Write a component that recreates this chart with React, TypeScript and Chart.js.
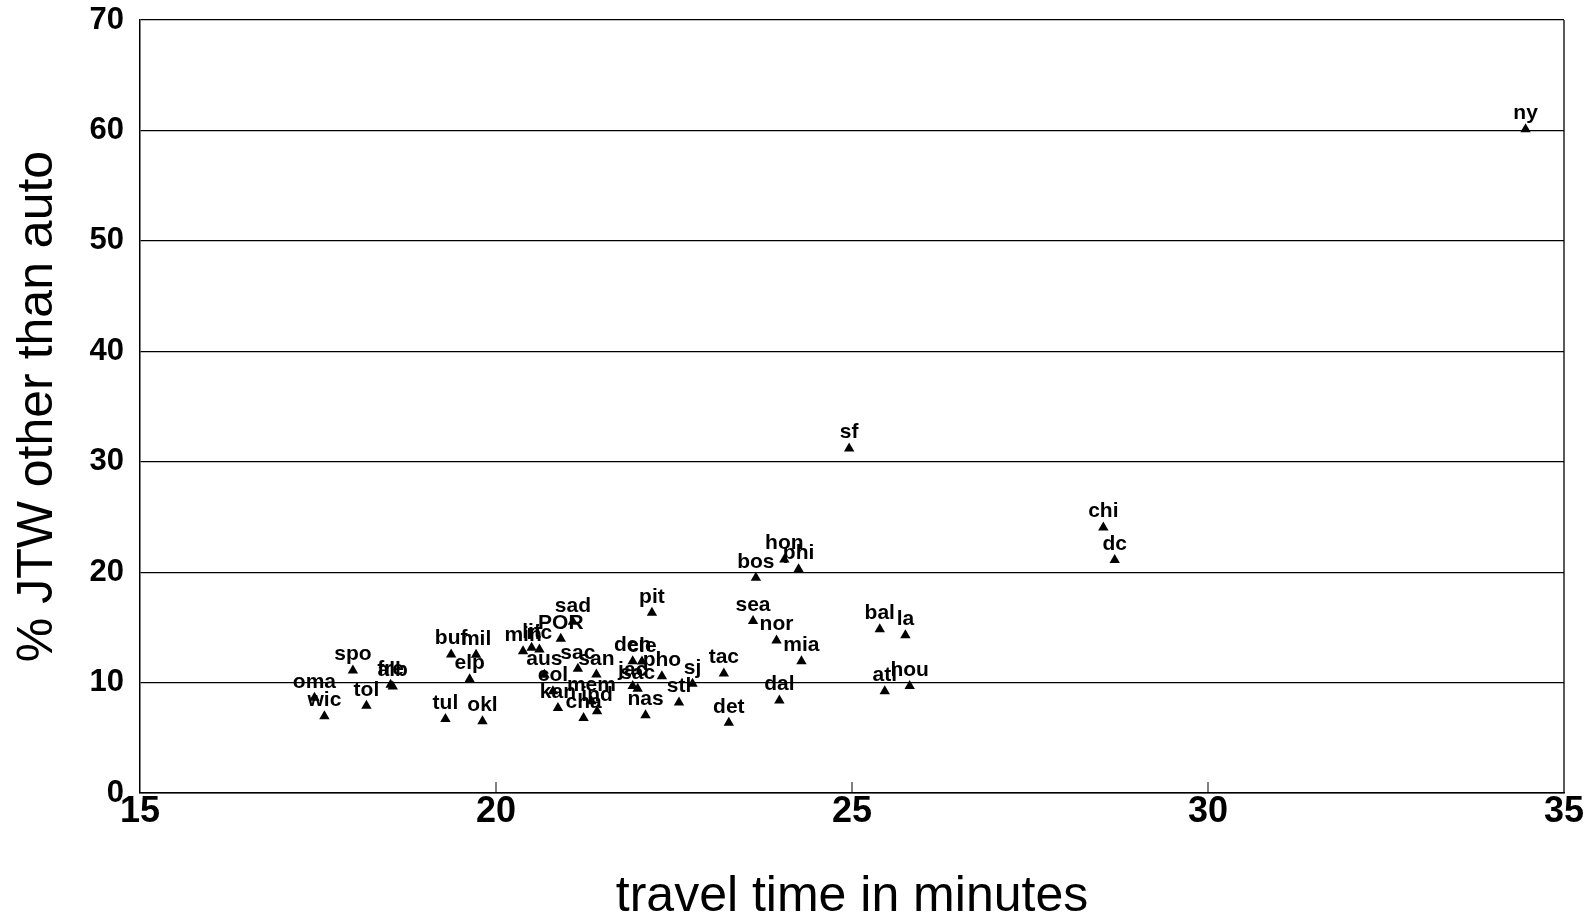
import React, { useEffect, useRef } from "react";
import { Chart, registerables } from "chart.js";

Chart.register(...registerables);

const cityLabels = [
  "ny", "sf", "chi", "dc", "hon", "phi", "bos", "sea", "nor", "mia",
  "bal", "la", "atl", "hou", "dal", "det", "tac", "sj", "stl", "nas",
  "pit", "pho", "den", "cle", "jac", "sac", "san", "sac", "mem", "cha",
  "ind", "kan", "col", "aus", "POR", "sad", "min", "lit", "ric", "mil",
  "buf", "elp", "tul", "okl", "fre", "alb", "spo", "tol", "oma", "wic",
];

const travelMinutes = [
  34.46, 24.96, 28.53, 28.69, 24.05, 24.25, 23.65, 23.61, 23.94, 24.29,
  25.39, 25.75, 25.46, 25.81, 23.98, 23.27, 23.2, 22.76, 22.57, 22.1,
  22.19, 22.33, 21.92, 22.05, 21.92, 21.99, 21.41, 21.15, 21.34, 21.23,
  21.42, 20.87, 20.8, 20.68, 20.91, 21.08, 20.38, 20.5, 20.61, 19.72,
  19.37, 19.63, 19.29, 19.81, 18.52, 18.55, 17.99, 18.18, 17.45, 17.59,
];

const pctNonAuto = [
  60.1, 31.2, 24.05, 21.1, 21.15, 20.26, 19.5, 15.57, 13.82, 11.94,
  14.82, 14.29, 9.22, 9.68, 8.38, 6.36, 10.83, 9.9, 8.2, 7.05,
  16.33, 10.58, 11.94, 11.9, 9.68, 9.43, 10.73, 11.25, 8.3, 6.8,
  7.4, 7.7, 9.22, 10.7, 13.96, 15.5, 12.84, 13.16, 13.0, 12.52,
  12.55, 10.3, 6.7, 6.5, 9.8, 9.65, 11.1, 7.9, 8.62, 6.95,
];

const xTickValues = [15, 20, 25, 30, 35];
const yTickValues = [0, 10, 20, 30, 40, 50, 60, 70];

const FONT = '"Liberation Sans", Arial, Helvetica, sans-serif';

const labelPlugin = {
  id: "cityLabels",
  afterDatasetsDraw(chart: any) {
    const meta = chart.getDatasetMeta(0);
    const ctx = chart.ctx;
    ctx.save();
    ctx.font = `bold 21px ${FONT}`;
    ctx.fillStyle = "#000";
    ctx.textAlign = "center";
    ctx.textBaseline = "alphabetic";
    meta.data.forEach((el: any, i: number) => {
      ctx.fillText(cityLabels[i], el.x, el.y - 10);
    });
    ctx.restore();
  },
};

const framePlugin = {
  id: "frame",
  beforeDatasetsDraw(chart: any) {
    const { ctx, chartArea } = chart;
    const xs = chart.scales.x;
    ctx.save();
    ctx.strokeStyle = "#000";
    ctx.lineWidth = 1.3;
    ctx.beginPath();
    ctx.moveTo(chartArea.right, chartArea.top);
    ctx.lineTo(chartArea.right, chartArea.bottom);
    ctx.stroke();
    ctx.lineWidth = 1;
    xTickValues.slice(1, -1).forEach((v) => {
      const px = xs.getPixelForValue(v);
      ctx.beginPath();
      ctx.moveTo(px, chartArea.bottom);
      ctx.lineTo(px, chartArea.bottom - 11);
      ctx.stroke();
    });
    ctx.restore();
  },
};

export default function App() {
  const canvasRef = useRef<HTMLCanvasElement | null>(null);

  useEffect(() => {
    document.body.style.margin = "0";
    const canvas = canvasRef.current;
    if (!canvas) return;
    const points = travelMinutes.map((x, i) => ({ x, y: pctNonAuto[i] }));
    const chart = new Chart(canvas, {
      type: "scatter",
      data: {
        datasets: [
          {
            data: points,
            pointStyle: "triangle",
            pointRadius: 6,
            pointHoverRadius: 6,
            backgroundColor: "#000",
            borderColor: "#000",
            borderWidth: 0,
          },
        ],
      },
      options: {
        animation: false,
        responsive: false,
        devicePixelRatio: 1,
        events: [],
        layout: { padding: { top: 20, right: 23, left: 0, bottom: 0 } },
        plugins: {
          legend: { display: false },
          tooltip: { enabled: false },
        },
        scales: {
          x: {
            type: "linear",
            min: 15,
            max: 35,
            afterBuildTicks: (scale: any) => {
              scale.ticks = xTickValues.map((v) => ({ value: v }));
            },
            afterFit: (scale: any) => {
              scale.height = 127;
              scale.paddingLeft = 0;
              scale.paddingRight = 0;
            },
            ticks: {
              color: "#000",
              font: { family: FONT, size: 36, weight: "bold" },
              padding: -3,
              maxRotation: 0,
            },
            grid: { display: true, drawOnChartArea: false, drawTicks: false, color: "#000" },
            border: { display: true, color: "#000", width: 1.5 },
            title: {
              display: true,
              text: "travel time in minutes",
              color: "#000",
              font: { family: FONT, size: 50, weight: "normal", lineHeight: 0.9 },
              padding: { top: 0, bottom: 0 },
            },
          },
          y: {
            type: "linear",
            min: 0,
            max: 70,
            afterBuildTicks: (scale: any) => {
              scale.ticks = yTickValues.map((v) => ({ value: v }));
            },
            afterFit: (scale: any) => {
              scale.width = 140;
              scale.paddingTop = 0;
              scale.paddingBottom = 0;
            },
            ticks: {
              color: "#000",
              font: { family: FONT, size: 31, weight: "bold" },
              padding: 16,
            },
            grid: { display: true, drawTicks: false, color: "#000", lineWidth: 1.2 },
            border: { display: true, color: "#000", width: 1.5 },
            title: {
              display: true,
              text: "% JTW other than auto",
              color: "#000",
              font: { family: FONT, size: 50, weight: "normal", lineHeight: 1 },
              padding: { top: 13, bottom: 0 },
            },
          },
        },
      },
      plugins: [framePlugin, labelPlugin],
    });
    return () => {
      chart.destroy();
    };
  }, []);

  return (
    <div style={{ position: "absolute", left: 0, top: 0, width: 1587, height: 920, background: "#fff" }}>
      <canvas ref={canvasRef} width={1587} height={920} style={{ display: "block" }} />
    </div>
  );
}
